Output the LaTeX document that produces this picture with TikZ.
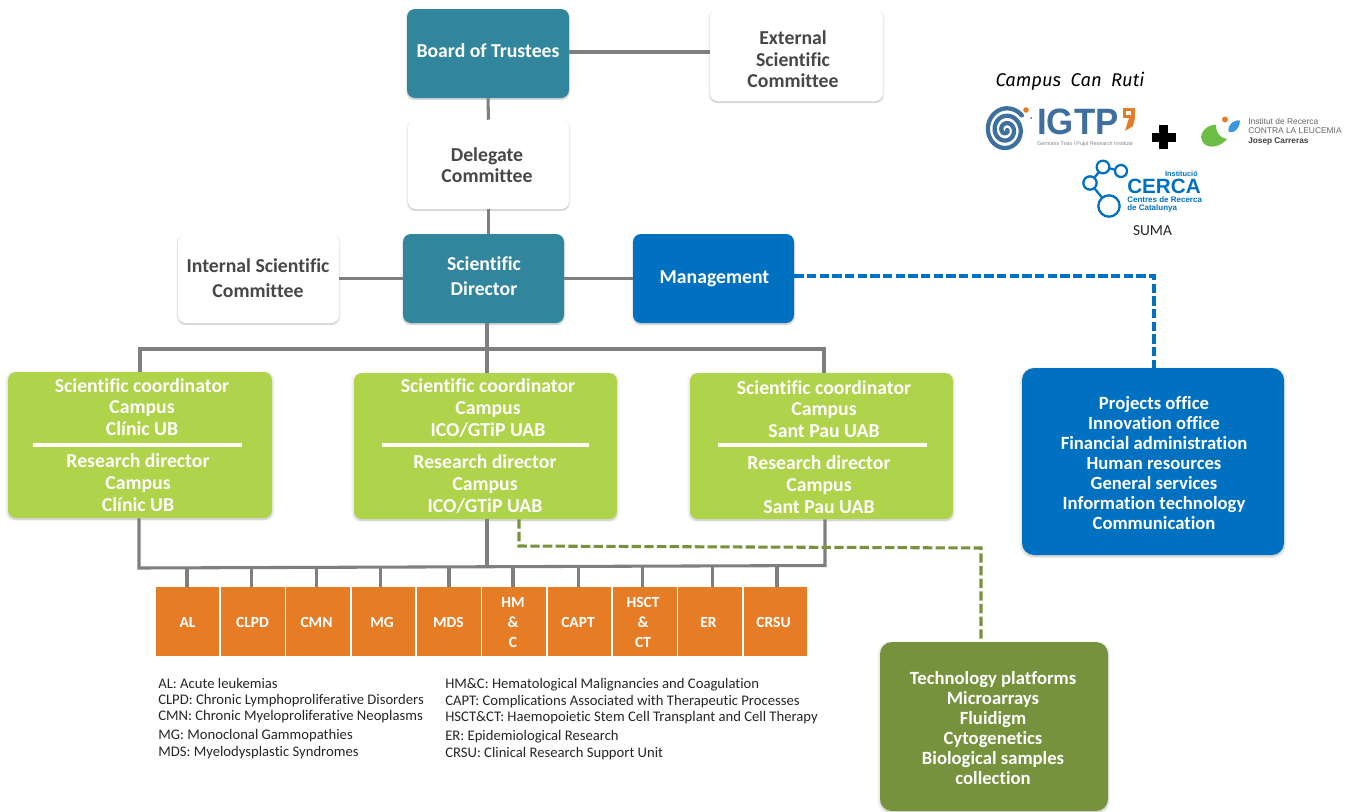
\documentclass[tikz,border=0pt]{standalone}
\usepackage{fontspec}
\setmainfont[Ligatures={TeX,CommonOff}]{Carlito}
\newfontfamily\lsans{Liberation Sans}
\newfontfamily\hand{Fira Sans}
\usetikzlibrary{shadows,calc}
\definecolor{teal1}{HTML}{31859C}
\definecolor{blue1}{HTML}{0070C0}
\definecolor{green1}{HTML}{AFD34A}
\definecolor{orange1}{HTML}{E67D26}
\definecolor{olive1}{HTML}{76923C}
\definecolor{gray1}{HTML}{7F7F7F}
\definecolor{igtp}{HTML}{3F6F9F}
\tikzset{
  sz/.style 2 args={minimum width=#1*0.75pt,minimum height=#2*0.75pt,inner sep=0pt},
  box/.style={rounded corners=6pt,
    general shadow={fill=black,opacity=.04,shadow scale=1.02,shadow yshift=-.8pt},
    general shadow={fill=black,opacity=.05,shadow scale=1.01,shadow yshift=-1pt},
    general shadow={fill=black,opacity=.08,shadow yshift=-1.6pt}},
  tealbox/.style={box,fill=teal1},
  whitebox/.style={box,fill=white},
  bluebox/.style={box,fill=blue1},
  greenbox/.style={box,fill=green1},
  olivebox/.style={box,fill=olive1},
  boxtext/.style={inner sep=0pt,align=center,font=\bfseries\fontsize{14.8}{16.2}\selectfont},
  darktext/.style={boxtext,text=black!72},
  lighttext/.style={boxtext,text=white},
  cotext/.style={text=white,align=center,inner sep=0pt,font=\bfseries\fontsize{14.8}{16.3}\selectfont},
  listtext/.style={text=white,align=center,inner sep=0pt,font=\bfseries\fontsize{14}{15}\selectfont},
  area/.style={fill=orange1,inner sep=0pt},
  areatext/.style={inner sep=0pt,text=white,align=center,font=\bfseries\fontsize{11.6}{15}\selectfont},
  legend/.style={anchor=west,inner sep=0pt,text=black!85,font=\fontsize{11}{12}\selectfont},
  conn/.style={draw=gray1,line width=2.3pt},
  tick/.style={draw=gray1,line width=2.3pt},
  dashblue/.style={draw=blue1,line width=2.3pt,dash pattern=on 7pt off 2.5pt},
  dashgreen/.style={draw=olive1,line width=2.3pt,dash pattern=on 7pt off 2.5pt},
  divider/.style={draw=white,line width=2.4pt},
}
\begin{document}
\begin{tikzpicture}[x=0.75pt,y=-0.75pt]
\useasboundingbox (0,0) rectangle (1352,811);
% top boxes
\node[tealbox,sz={162}{89}] (board) at (488,53.5) {};
\node[whitebox,sz={173}{92}] (ext) at (796.5,55) {};
\node[whitebox,sz={161}{89}] (dele) at (488.5,164.5) {};
\node[tealbox,sz={161}{89}] (sd) at (483.5,278.5) {};
\node[whitebox,sz={161}{89}] (isc) at (258.5,278.5) {};
\node[bluebox,sz={161}{89}] (mgmt) at (713.5,278.5) {};
\node[lighttext] (boardt) at (488,51) {Board of Trustees};
\node[darktext] (extt) at (793,59.5) {External\\Scientific\\Committee};
\node[darktext] (delet) at (487,165) {Delegate\\Committee};
\node[lighttext] (sdt) at (484,276.5) {Scientific\\[2.6pt]Director};
\node[darktext] (isct) at (258,278.5) {Internal Scientific\\[2.6pt]Committee};
\node[lighttext] (mgmtt) at (714.5,278.5) {Management};
% green boxes
\node[greenbox,sz={264}{146}] (g1) at (140,445) {};
\node[greenbox,sz={263}{146}] (g2) at (485.5,446) {};
\node[greenbox,sz={263}{146}] (g3) at (821.5,446) {};
\node[cotext] (g1a) at (142,407) {Scientific coordinator\\Campus\\Clínic UB};
\node[cotext] (g1b) at (138,482.5) {Research director\\Campus\\Clínic UB};
\node[cotext] (g2a) at (488,408) {Scientific coordinator\\Campus\\ICO/GTiP UAB};
\node[cotext] (g2b) at (485,484) {Research director\\Campus\\ICO/GTiP UAB};
\node[cotext] (g3a) at (824,409) {Scientific coordinator\\Campus\\Sant Pau UAB};
\node[cotext] (g3b) at (819,484.5) {Research director\\Campus\\Sant Pau UAB};
\coordinate (d1l) at (33,445); \coordinate (d1r) at (242,445);
\coordinate (d2l) at (382,445); \coordinate (d2r) at (589,445);
\coordinate (d3l) at (718,445); \coordinate (d3r) at (927,445);
\draw[divider] (d1l) -- (d1r);
\draw[divider] (d2l) -- (d2r);
\draw[divider] (d3l) -- (d3r);
% right boxes
\node[bluebox,sz={262}{187},rounded corners=9pt] (off) at (1153,461.5) {};
\node[listtext] (offt) at (1154,463) {Projects office\\Innovation office\\Financial administration\\Human resources\\General services\\Information technology\\Communication};
\node[olivebox,sz={228}{169},rounded corners=9pt] (tech) at (994,726.5) {};
\node[listtext] (techt) at (993,728) {Technology platforms\\Microarrays\\Fluidigm\\Cytogenetics\\Biological samples\\collection};
% orange boxes
\foreach \n/\xa/\xb/\t/\tx in {al/156/219/AL/187.5,clpd/221/284.5/CLPD/252.5,cmn/286/350/CMN/316.5,mg/352/415/MG/382,mds/416.5/480.5/MDS/448.5,hm/482/546/{HM\\\&\\C}/513,capt/547.5/611/CAPT/578,hsct/613/676.5/{HSCT\\\&\\CT}/643,er/678/741.5/ER/708.5,crsu/743.5/807/CRSU/773.5}{
  \pgfmathsetmacro\w{\xb-\xa}
  \pgfmathsetmacro\c{(\xb+\xa)/2}
  \node[area,sz={\w}{69}] (\n) at (\c,621.5) {};
  \node[areatext] (\n t) at (\tx,622.5) {\t};
}
% connectors
\coordinate (hb) at (600,52);
\draw[conn] (board.south) -- (dele.north);
\draw[conn] (board.east |- hb) -- (ext.west |- hb);
\draw[conn] (dele.south) -- (dele.south |- sd.north);
\draw[conn] (isc.east) -- (sd.west);
\draw[conn] (sd.east) -- (mgmt.west);
\coordinate (bt1) at (140,349); \coordinate (bt2) at (487,349); \coordinate (bt3) at (824,349);
\draw[conn] (bt2 |- sd.south) -- (bt2) -- (bt2 |- g2.north);
\draw[conn] (bt1 |- g1.north) -- (bt1) -- (bt3) -- (bt3 |- g3.north);
\coordinate (bb1) at (139,568); \coordinate (bb2) at (487,567); \coordinate (bb3) at (825,565.5);
\draw[conn] (bb2 |- g2.south) -- (bb2);
\draw[conn] (bb1 |- g1.south) -- (bb1) -- (bb3) -- (bb3 |- g3.south);
\foreach \n/\x in {al/187,clpd/251.5,cmn/316.5,mg/380.5,mds/449,hm/513,capt/578.5,hsct/642.5,er/712.5,crsu/777}{
  \coordinate (tk) at (\x,566.5);
  \draw[tick] (tk) -- (tk |- \n.north);
}
\coordinate (mbend) at (1154,276);
\draw[dashblue] (mgmt.east |- mbend) -- (mbend) -- (mbend |- off.north);
\coordinate (tbend1) at (519,546); \coordinate (tbend2) at (981,548);
\draw[dashgreen] (tbend1 |- g2.south) -- (tbend1) -- (tbend2) -- (tbend2 |- tech.north);
% legends
\node[legend] (l1) at (158,683.5) {AL: Acute leukemias};
\node[legend] (l2) at (158,701) {CLPD: Chronic Lymphoproliferative Disorders};
\node[legend] (l3) at (158,717) {CMN: Chronic Myeloproliferative Neoplasms};
\node[legend] (l4) at (158,735.5) {MG: Monoclonal Gammopathies};
\node[legend] (l5) at (158,753) {MDS: Myelodysplastic Syndromes};
\node[legend] (r1) at (445,685) {HM\&C: Hematological Malignancies and Coagulation};
\node[legend] (r2) at (445,702) {CAPT: Complications Associated with Therapeutic Processes};
\node[legend] (r3) at (445,718) {HSCT\&CT: Haemopoietic Stem Cell Transplant and Cell Therapy};
\node[legend] (r4) at (445,736.5) {ER: Epidemiological Research};
\node[legend] (r5) at (445,754) {CRSU: Clinical Research Support Unit};
% logos
\node[anchor=center,inner sep=0pt,font=\hand\itshape\fontseries{m}\fontsize{13.8}{15}\selectfont] (campus) at (1070,81) {Campus\ \ Can\ \ Ruti};
% IGTP spiral
\draw[igtp,line width=3.2pt,line cap=round,domain=0:1040,samples=130,smooth,variable=\t]
  plot ({1006+(1.2+\t/1040*19.5)*cos(\t)},{130+(1.2+\t/1040*21.5)*sin(\t)});
\fill[orange1] (1026,110) circle (2.8);
\fill[igtp] (1031,118) circle (1);
\node[anchor=west,inner sep=0pt,text=igtp,font=\lsans\bfseries\fontsize{27.5}{28}\selectfont,xscale=.95] (igtpt) at (1037,122) {IGTP};
\node[anchor=west,inner sep=0pt,text=black!50,font=\lsans\fontsize{4}{5}\selectfont] (igtps) at (1037,144.5) {Germans Trias i Pujol Research Institute};
\fill[orange1] (1123,108) rectangle (1135,118);
\fill[orange1] (1135,118) -- (1133,126) -- (1125,131) -- (1129,118) -- cycle;
\fill[white] (1126,110.5) rectangle (1131,115);
% plus
\fill[black] (1159,125) rectangle (1168,149);
\fill[black] (1151.5,132.5) rectangle (1175.5,141.5);
% leukemia logo
\definecolor{leaf}{HTML}{6DBE45}
\fill[leaf] (1201,137) .. controls (1202,128) and (1212,124) .. (1216,125) .. controls (1216,133) and (1220,138) .. (1227,139) .. controls (1220,148) and (1203,151) .. (1201,137) -- cycle;
\fill[orange1] (1225,119.5) circle (3);
\fill[cyan!70!blue!80] (1233,122) .. controls (1236,120) and (1240,120) .. (1240,121) .. controls (1240,127) and (1235,134) .. (1229,132) .. controls (1227,129) and (1230,124) .. (1233,122) -- cycle;
\node[anchor=west,inner sep=0pt,text=black!60,font=\lsans\fontsize{6.3}{7}\selectfont] (jc1) at (1248,121) {Institut de Recerca};
\node[anchor=west,inner sep=0pt,text=black!60,font=\lsans\fontsize{6.3}{7}\selectfont] (jc2) at (1248,131) {CONTRA LA LEUCEMIA};
\node[anchor=west,inner sep=0pt,text=black!75,font=\lsans\bfseries\fontsize{6.2}{7}\selectfont] (jc3) at (1248,141) {Josep Carreras};
% CERCA logo
\tikzset{cc/.style={draw=blue1,line width=1.7pt,fill=white}}
\draw[blue1,line width=1.7pt] (1103,167) -- (1121,171) (1103,167) -- (1090,183) (1090,183) -- (1109,206);
\node[cc,circle,minimum size=9.5pt,inner sep=0pt] (c1) at (1103,167) {};
\node[cc,circle,minimum size=9pt,inner sep=0pt] (c2) at (1121,171) {};
\node[cc,circle,minimum size=10pt,inner sep=0pt] (c3) at (1090,183) {};
\node[cc,circle,minimum size=16pt,inner sep=0pt] (c4) at (1109,206) {};
\node[anchor=east,inner sep=0pt,text=blue1,font=\lsans\bfseries\fontsize{5.5}{6}\selectfont] (ce1) at (1198,174) {Institució};
\node[anchor=west,inner sep=0pt,text=blue1,font=\lsans\bfseries\fontsize{15.5}{16}\selectfont] (ce2) at (1127,186) {CERCA};
\node[anchor=west,inner sep=0pt,text=blue1,font=\lsans\bfseries\fontsize{6}{6}\selectfont] (ce3) at (1127,200) {Centres de Recerca};
\node[anchor=west,inner sep=0pt,text=blue1,font=\lsans\bfseries\fontsize{6}{6}\selectfont] (ce4) at (1127,208.5) {de Catalunya};
\node[inner sep=0pt,text=black!85,font=\fontsize{11.5}{12}\selectfont] (suma) at (1152.5,231) {SUMA};
\end{tikzpicture}
\end{document}
